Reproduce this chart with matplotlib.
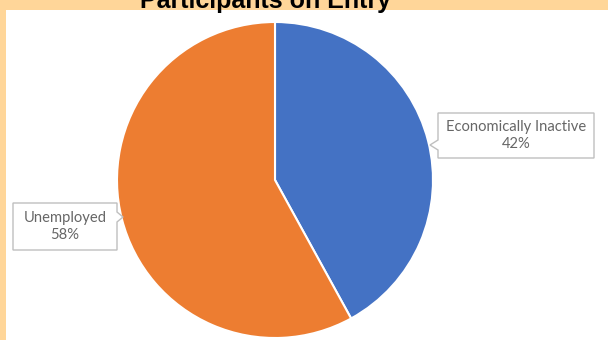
import numpy as np
import matplotlib.pyplot as plt
from matplotlib.patches import Rectangle, Polygon

# data
categories = ['Economically Inactive', 'Unemployed']
shares = [42, 58]
colors = ['#4472C4', '#ED7D31']
title = 'Participants on Entry'

W, H = 608, 340
fig = plt.figure(figsize=(W / 100, H / 100), dpi=100)
fig.patch.set_facecolor('#FFD699')

ax = fig.add_axes([0, 0, 1, 1])
ax.set_facecolor('none')
# white chart area inside the peach frame
ax.add_patch(Rectangle((6 / W, 0), 1, 1 - 10 / H, transform=fig.transFigure,
                       facecolor='white', edgecolor='none', zorder=0))
cx, cy, r = 275, 160, 158
wedges, _ = ax.pie(shares, colors=colors, startangle=90, counterclock=False,
                   center=(cx, cy), radius=r,
                   wedgeprops=dict(edgecolor='white', linewidth=1.5, zorder=2))
ax.set_xlim(0, W)
ax.set_ylim(0, H)
ax.set_aspect('auto')
ax.axis('off')


def callout(x0, x1, y0, y1, side, tip, py, text):
    # box with a little pointer on one side
    if side == 'left':
        pts = [(x0, y1), (x1, y1), (x1, y0), (x0, y0), (x0, py - 5), (tip, py), (x0, py + 5)]
    else:
        pts = [(x0, y1), (x1, y1), (x1, py + 5), (tip, py), (x1, py - 5), (x1, y0), (x0, y0)]
    ax.add_patch(Polygon(pts, closed=True, facecolor='white', edgecolor='#BFBFBF',
                         linewidth=1, zorder=5))
    ax.text((x0 + x1) / 2, (y0 + y1) / 2, text, ha='center', va='center',
            fontsize=10.6, family='Lato', color='#666666', linespacing=1.3, zorder=6)


callout(438, 594, H - 158, H - 113, 'left', 430, H - 145,
        f'{categories[0]}\n{shares[0]}%')
callout(13, 117, H - 250, H - 203, 'right', 123, H - 217,
        f'{categories[1]}\n{shares[1]}%')

fig.text(265 / W, 1 - 8 / H, title, ha='center', va='baseline',
         fontsize=18, fontweight='bold', family='Liberation Sans', color='black')

fig.savefig('out.png', dpi=100, facecolor=fig.get_facecolor())
